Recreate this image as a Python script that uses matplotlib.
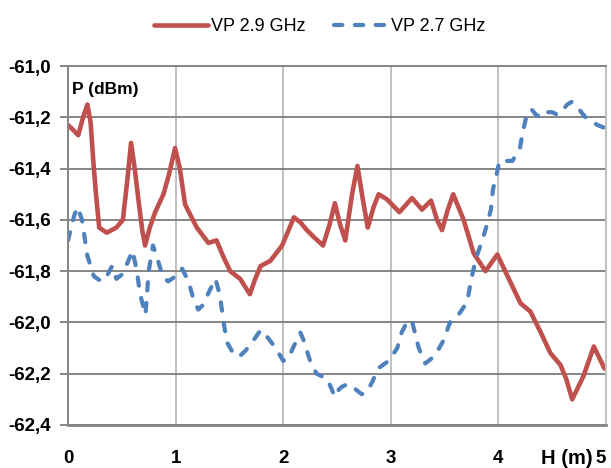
import matplotlib
matplotlib.use("Agg")
import matplotlib.pyplot as plt
import numpy as np

plt.rcParams["font.family"] = ["Liberation Sans", "DejaVu Sans"]

# VP 2.9 GHz (solid red)
h_29 = [0.00, 0.05, 0.095, 0.14, 0.18, 0.21, 0.235, 0.26, 0.29, 0.36, 0.45, 0.51,
        0.55, 0.586, 0.62, 0.654, 0.69, 0.716, 0.76, 0.81, 0.887, 0.94, 0.995,
        1.04, 1.088, 1.197, 1.305, 1.38, 1.44, 1.507, 1.60, 1.69, 1.74, 1.79,
        1.88, 1.99, 2.05, 2.10, 2.16, 2.22, 2.28, 2.37, 2.43, 2.48, 2.53, 2.577,
        2.64, 2.69, 2.74, 2.786, 2.84, 2.887, 2.965, 3.08, 3.197, 3.29, 3.374,
        3.43, 3.476, 3.53, 3.58, 3.677, 3.77, 3.88, 3.99, 4.097, 4.205, 4.298,
        4.39, 4.484, 4.577, 4.63, 4.686, 4.79, 4.887, 4.986]
p_29 = [-61.23, -61.25, -61.27, -61.20, -61.15, -61.22, -61.37, -61.50, -61.63,
        -61.65, -61.63, -61.60, -61.45, -61.30, -61.40, -61.52, -61.64, -61.70,
        -61.63, -61.57, -61.50, -61.42, -61.32, -61.40, -61.54, -61.63, -61.69,
        -61.68, -61.74, -61.80, -61.83, -61.89, -61.83, -61.78, -61.76, -61.70,
        -61.64, -61.59, -61.61, -61.64, -61.665, -61.70, -61.62, -61.535, -61.62,
        -61.68, -61.50, -61.39, -61.52, -61.63, -61.55, -61.50, -61.52, -61.57,
        -61.515, -61.56, -61.525, -61.60, -61.64, -61.56, -61.50, -61.60, -61.73,
        -61.80, -61.735, -61.83, -61.925, -61.958, -62.036, -62.12, -62.166,
        -62.22, -62.30, -62.21, -62.094, -62.18]

# VP 2.7 GHz (dashed blue)
h_27 = [0.00, 0.06, 0.09, 0.13, 0.18, 0.24, 0.31, 0.36, 0.41, 0.45, 0.51, 0.56,
        0.60, 0.64, 0.67, 0.72, 0.75, 0.79, 0.83, 0.88, 0.93, 1.00, 1.06, 1.12,
        1.16, 1.21, 1.26, 1.30, 1.37, 1.41, 1.45, 1.48, 1.55, 1.60, 1.65, 1.74,
        1.79, 1.84, 1.93, 2.00, 2.05, 2.09, 2.16, 2.19, 2.25, 2.31, 2.41, 2.48,
        2.52, 2.55, 2.60, 2.64, 2.73, 2.78, 2.83, 2.88, 2.98, 3.06, 3.10, 3.16,
        3.20, 3.23, 3.26, 3.32, 3.41, 3.49, 3.55, 3.63, 3.71, 3.74, 3.77, 3.80,
        3.85, 3.90, 3.93, 3.95, 3.98, 4.01, 4.07, 4.13, 4.20, 4.23, 4.27, 4.31,
        4.35, 4.40, 4.45, 4.50, 4.55, 4.60, 4.64, 4.68, 4.72, 4.77, 4.81, 4.92,
        4.98]
p_27 = [-61.68, -61.58, -61.55, -61.60, -61.74, -61.82, -61.84, -61.82, -61.78,
        -61.83, -61.81, -61.76, -61.72, -61.80, -61.89, -61.97, -61.80, -61.70,
        -61.75, -61.82, -61.84, -61.82, -61.79, -61.84, -61.90, -61.95, -61.93,
        -61.89, -61.83, -61.89, -62.01, -62.08, -62.13, -62.13, -62.11, -62.06,
        -62.03, -62.05, -62.10, -62.15, -62.14, -62.10, -62.04, -62.07, -62.15,
        -62.20, -62.22, -62.29, -62.26, -62.25, -62.24, -62.25, -62.28, -62.27,
        -62.23, -62.18, -62.15, -62.10, -62.04, -61.99, -62.00, -62.05, -62.10,
        -62.16, -62.13, -62.07, -62.00, -61.97, -61.92, -61.85, -61.79, -61.74,
        -61.68, -61.61, -61.56, -61.48, -61.43, -61.37, -61.37, -61.37, -61.32,
        -61.25, -61.18, -61.17, -61.19, -61.20, -61.18, -61.18, -61.19, -61.17,
        -61.15, -61.14, -61.15, -61.18, -61.20, -61.23, -61.24]

x_ticks = [0, 1, 2, 3, 4, 5]
x_labels = ["0", "1", "2", "3", "4", "5"]
y_ticks = [-61.0, -61.2, -61.4, -61.6, -61.8, -62.0, -62.2, -62.4]
y_labels = ["-61,0", "-61,2", "-61,4", "-61,6", "-61,8", "-62,0", "-62,2", "-62,4"]

RED = "#C0504D"
BLUE = "#4F81BD"

fig = plt.figure(figsize=(6.11, 4.68), dpi=100)
ax = fig.add_axes([0.1113, 0.0919, 0.8805, 0.767])

ax.plot(h_29, p_29, color=RED, lw=3.3, solid_capstyle="round",
        solid_joinstyle="round", label="VP 2.9 GHz")
ax.plot(h_27, p_27, color=BLUE, lw=3.0, dashes=(2.0, 3.0),
        dash_capstyle="round", dash_joinstyle="round", label="VP 2.7 GHz")

ax.set_xlim(0, 5)
ax.set_ylim(-62.4, -61.0)
ax.set_xticks(x_ticks)
ax.set_xticklabels(x_labels)
ax.set_yticks(y_ticks)
ax.set_yticklabels(y_labels)

ax.grid(axis="y", color="#858585", lw=1.4)
ax.grid(axis="x", color="#C0C0C0", lw=1.4)
ax.set_axisbelow(True)
for side in ["left", "bottom", "right", "top"]:
    ax.spines[side].set_color("#858585")
    ax.spines[side].set_linewidth(1.4)
ax.spines["bottom"].set_linewidth(2.0)
ax.spines["right"].set_color("#C0C0C0")

ax.tick_params(axis="y", length=6, width=1.4, color="#858585", pad=6.5,
               labelsize=13.5)
ax.tick_params(axis="x", length=0, pad=18, labelsize=13.5)
for t in ax.get_xticklabels() + ax.get_yticklabels():
    t.set_fontweight("bold")
ax.get_xticklabels()[-1].set_horizontalalignment("right")
ax.get_xticklabels()[-1].set_x(5.03)

ax.text(0.008, 0.955, "P (dBm)", transform=ax.transAxes, fontsize=12.5,
        fontweight="bold", ha="left", va="top")
ax.annotate("H (m)", xy=(5, -62.4), xytext=(-9.5, -17), textcoords="offset points",
            fontsize=14.5, fontweight="bold", ha="right", va="top")

fig.legend(loc="upper center", bbox_to_anchor=(0.523, 1.0), ncol=2,
           frameon=False, fontsize=13, handlelength=3.0, columnspacing=1.6,
           handletextpad=0.15, borderaxespad=0.6)

fig.savefig("out.png", dpi=100)
